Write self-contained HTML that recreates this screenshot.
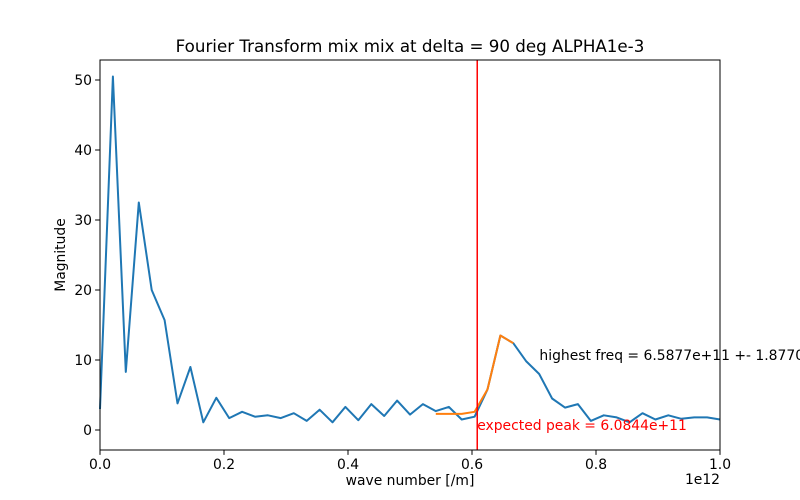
<!DOCTYPE html>
<html><head><meta charset="utf-8"><style>
body{margin:0;background:#fff}
svg{display:block;font-family:"DejaVu Sans","Liberation Sans",sans-serif}
</style></head><body>
<svg id="chart" width="800" height="500">
<rect width="800" height="500" fill="#fff"/>
<text x="410" y="52" font-size="16.7" text-anchor="middle">Fourier Transform mix mix at delta = 90 deg ALPHA1e-3</text>
<g id="plot"></g>
</svg>
<script>
const blueValues=[3,50.5,8.3,32.5,20,15.7,3.8,9,1.1,4.6,1.7,2.6,1.9,2.1,1.7,2.4,1.3,2.9,1.1,3.3,1.4,3.7,2.0,4.2,2.2,3.7,2.7,3.3,1.5,1.9,5.8,13.5,12.4,9.8,8.0,4.5,3.2,3.7,1.3,2.1,1.8,1.1,2.4,1.5,2.1,1.6,1.8,1.8,1.5];
const orangeIdx=[26,27,28,29,30,31,32];
const orangeValues=[2.3,2.3,2.3,2.6,5.8,13.5,12.4];
const xStep=1/48;
const xTicks=[0,0.2,0.4,0.6,0.8,1.0];
const xTickLabels=["0.0","0.2","0.4","0.6","0.8","1.0"];
const yTicks=[0,10,20,30,40,50];
const expectedPeak=0.60844;
const highestFreq=0.70877;
const ns="http://www.w3.org/2000/svg";
const X0=100,X1=720,Y0=60,Y1=450,YMIN=-2.857,YMAX=52.857;
const sx=v=>X0+(v-0)*(X1-X0)/1.0;
const sy=v=>Y1-(v-YMIN)*(Y1-Y0)/(YMAX-YMIN);
const g=document.getElementById('plot');
function mk(t,a){const e=document.createElementNS(ns,t);for(const k in a)e.setAttribute(k,a[k]);g.appendChild(e);return e;}
let d=blueValues.map((v,i)=>(i?'L':'M')+sx(i*xStep).toFixed(1)+','+sy(v).toFixed(1)).join('');
let p=mk('path',{d:d,fill:'none',stroke:'#1f77b4','stroke-width':2,'stroke-linejoin':'round'});


d=orangeValues.map((v,i)=>(i?'L':'M')+sx(orangeIdx[i]*xStep).toFixed(1)+','+sy(v).toFixed(1)).join('');
p=mk('path',{d:d,fill:'none',stroke:'#ff7f0e','stroke-width':2,'stroke-linejoin':'round'});


let l=mk('line',{x1:sx(expectedPeak),x2:sx(expectedPeak),y1:Y0,y2:Y1,stroke:'#ff0000','stroke-width':1.5});


let ax=mk('rect',{x:X0,y:Y0,width:X1-X0,height:Y1-Y0,fill:'none',stroke:'#000','stroke-width':1});


let t=mk('text',{x:sx(highestFreq),y:sy(10),'font-size':13.9});t.textContent='highest freq = 6.5877e+11 +- 1.8770e+10';


t=mk('text',{x:sx(expectedPeak),y:sy(0),'font-size':13.9,fill:'#ff0000'});t.textContent='expected peak = 6.0844e+11';


xTicks.forEach((v,i)=>{const x=sx(v);
 const tk=mk('line',{x1:x,x2:x,y1:Y1,y2:Y1+4.9,stroke:'#000'});
 
 
 const lb=mk('text',{x:x,y:Y1+19,'font-size':13.9,'text-anchor':'middle'});lb.textContent=xTickLabels[i];
 
 });
yTicks.forEach(v=>{const y=sy(v);
 const tk=mk('line',{x1:X0-4.9,x2:X0,y1:y,y2:y,stroke:'#000'});
 
 
 const lb=mk('text',{x:X0-8,y:y+5,'font-size':13.9,'text-anchor':'end'});lb.textContent=v;
 
 });
t=mk('text',{x:720,y:484,'font-size':13.9,'text-anchor':'end'});t.textContent='1e12';


t=mk('text',{x:410,y:485,'font-size':13.9,'text-anchor':'middle'});t.textContent='wave number [/m]';


t=mk('text',{x:65,y:255,'font-size':13.9,'text-anchor':'middle',transform:'rotate(-90 65 255)'});t.textContent='Magnitude';


</script>
</body></html>
